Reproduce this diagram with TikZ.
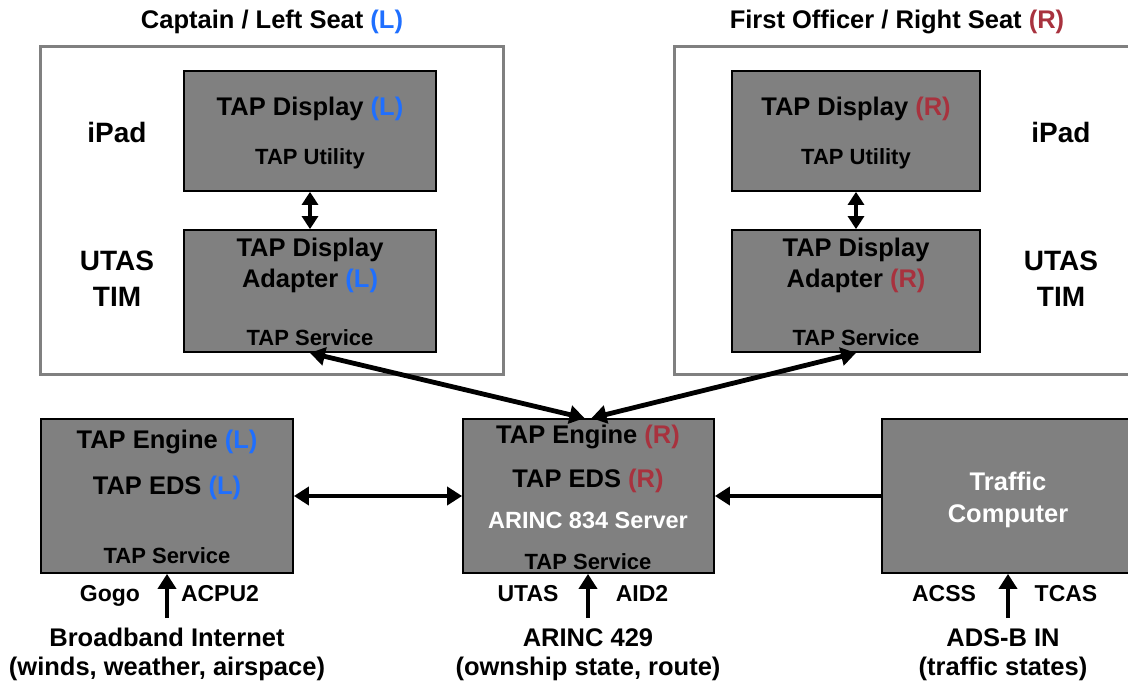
\documentclass[tikz,border=0pt]{standalone}
\usepackage{fontspec}
\setmainfont{Liberation Sans}
\usetikzlibrary{arrows.meta}
\definecolor{Lblue}{HTML}{1F6FFF}
\definecolor{Rred}{HTML}{A8323E}
\definecolor{boxgray}{HTML}{808080}
\newcommand{\myL}{\textcolor{Lblue}{(L)}}
\newcommand{\myR}{\textcolor{Rred}{(R)}}
\begin{document}
\begin{tikzpicture}[x=1pt,y=-1pt,
  outer/.style={draw=boxgray, line width=3pt, inner sep=0pt},
  comp/.style={draw=black, fill=boxgray, line width=1.8pt, inner sep=0pt},
  txt/.style={font=\bfseries\fontsize{25.5}{30}\selectfont, inner sep=0pt, anchor=base},
  big/.style={font=\bfseries\fontsize{28}{34}\selectfont, inner sep=0pt, anchor=base},
  small/.style={font=\bfseries\fontsize{22}{26}\selectfont, inner sep=0pt, anchor=base},
  lab/.style={font=\bfseries\fontsize{23}{27}\selectfont, inner sep=0pt, anchor=base},
  conn/.style={line width=4.8pt, -{Triangle[length=15pt,width=18pt]}},
  dconn/.style={line width=4.8pt, {Triangle[length=15pt,width=18pt]}-{Triangle[length=15pt,width=18pt]}},
  sconn/.style={line width=4.8pt, {Triangle[length=13pt,width=16pt]}-{Triangle[length=13pt,width=16pt]}},
]
\useasboundingbox (0,0) rectangle (1128,684);
\clip (0,0) rectangle (1128,684);

% titles
\node[txt] (titleL) at (272,29) {Captain / Left Seat \myL};
\node[txt] (titleR) at (897,29) {First Officer / Right Seat \myR};

% outer boxes
\node[outer, minimum width=463pt, minimum height=328pt] (outL) at (271.5,211) {};
\node[outer, minimum width=463pt, minimum height=328pt] (outR) at (905.5,211) {};

% side labels
\node[big] (ipadL) at (117,143) {iPad};
\node[big] (utasL) at (117,271) {UTAS};
\node[big] (timL) at (117,307) {TIM};
\node[big] (ipadR) at (1061,143) {iPad};
\node[big] (utasR) at (1061,271) {UTAS};
\node[big] (timR) at (1061,307) {TIM};

% display boxes
\node[comp, minimum width=252pt, minimum height=120pt] (dispL) at (310,131) {};
\node[txt] (dispLt) at (310,116) {TAP Display \myL};
\node[small] (dispLu) at (310,164.5) {TAP Utility};

\node[comp, minimum width=248pt, minimum height=120pt] (dispR) at (856,131) {};
\node[txt] (dispRt) at (856,116) {TAP Display \myR};
\node[small] (dispRu) at (856,164.5) {TAP Utility};

% adapter boxes
\node[comp, minimum width=252pt, minimum height=122pt] (adaL) at (310,291) {};
\node[txt] (adaLt1) at (310,257) {TAP Display};
\node[txt] (adaLt2) at (310,288) {Adapter \myL};
\node[small] (adaLs) at (310,346) {TAP Service};

\node[comp, minimum width=248pt, minimum height=122pt] (adaR) at (856,291) {};
\node[txt] (adaRt1) at (856,257) {TAP Display};
\node[txt] (adaRt2) at (856,288) {Adapter \myR};
\node[small] (adaRs) at (856,346) {TAP Service};

% bottom boxes
\node[comp, minimum width=252pt, minimum height=154pt] (engL) at (167,496) {};
\node[txt] (engLt1) at (167,449) {TAP Engine \myL};
\node[txt] (engLt2) at (167,495) {TAP EDS \myL};
\node[small] (engLs) at (167,563) {TAP Service};

\node[comp, minimum width=251pt, minimum height=154pt] (engR) at (588.5,496) {};
\node[txt] (engRt1) at (588,444) {TAP Engine \myR};
\node[txt] (engRt2) at (588,488) {TAP EDS \myR};
\node[small, text=white, font=\bfseries\fontsize{23.5}{27}\selectfont] (engRa) at (588,529) {ARINC 834 Server};
\node[small] (engRs) at (588,569) {TAP Service};

\node[comp, minimum width=252pt, minimum height=154pt] (traf) at (1008,496) {};
\node[txt, text=white] (traft1) at (1008,491) {Traffic};
\node[txt, text=white] (traft2) at (1008,522) {Computer};

% bottom labels
\node[lab] (gogo) at (110,601) {Gogo};
\node[lab] (acpu) at (220,601) {ACPU2};
\node[txt] (bb1) at (167,646) {Broadband Internet};
\node[txt] (bb2) at (167,675) {(winds, weather, airspace)};

\node[lab] (utasB) at (528,601) {UTAS};
\node[lab] (aid) at (642,601) {AID2};
\node[txt] (ar1) at (588,646) {ARINC 429};
\node[txt] (ar2) at (588,675) {(ownship state, route)};

\node[lab] (acss) at (944,601) {ACSS};
\node[lab] (tcas) at (1066,601) {TCAS};
\node[txt] (ad1) at (1003,646) {ADS-B IN};
\node[txt] (ad2) at (1003,675) {(traffic states)};

\coordinate (inL) at (167,618);
\coordinate (inC) at (588,618);
\coordinate (inR) at (1008,618);

% connectors
\draw[sconn] (dispL.south) -- (adaL.south |- adaL.north);
\draw[sconn] (dispR.south) -- (adaR.south |- adaR.north);
\draw[dconn] (adaL.south) -- ([xshift=-4pt]engR.north);
\draw[dconn] (adaR.south) -- ([xshift=3pt]engR.north);
\draw[dconn] (engL.east) -- (engR.west);
\draw[conn] (traf.west) -- (engR.east);
\draw[conn] (inL) -- (engL.south);
\draw[conn] (inC) -- (inC |- engR.south);
\draw[conn] (inR) -- (inR |- traf.south);
\end{tikzpicture}
\end{document}
